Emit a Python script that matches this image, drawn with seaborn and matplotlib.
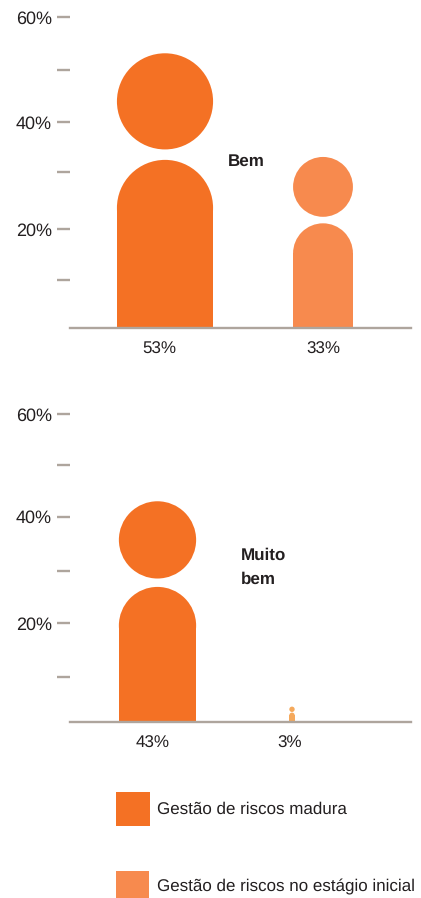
import matplotlib
matplotlib.use("Agg")
import matplotlib.pyplot as plt
import seaborn as sns
import pandas as pd
from matplotlib.patches import Ellipse, Rectangle

sns.set_style("white")
plt.rcParams['font.family'] = ['Liberation Sans', 'DejaVu Sans']
plt.rcParams['text.hinting'] = 'no_hinting'
plt.rcParams['text.hinting_factor'] = 1

W, H = 421, 898
INK = "#231F20"
GREY = "#AEA59D"

groups = ["Gestão de riscos madura", "Gestão de riscos no estágio inicial"]
bem_values = [53, 33]
bem_labels = ["53%", "33%"]
muito_values = [43, 3]
muito_labels = ["43%", "3%"]
bem_colors = ["#F47124", "#F78A4E"]
muito_colors = ["#F47124", "#F5A95C"]
legend_colors = ["#F47124", "#F78A4E"]
bem_ticks = [60, 49.8, 39.7, 30, 19.1, 9.3]
muito_ticks = [60, 50, 40, 29.5, 19.3, 8.8]
tick_labels = ["60%", "", "40%", "", "20%", ""]

fig = plt.figure(figsize=(W / 100, H / 100), dpi=100, facecolor="white")


def panel(y_top, y_base, x0, dx, values, labels, colors, ticks, label_pos):
    ax = fig.add_axes([70 / W, 1 - y_base / H, 341 / W, (y_base - y_top) / H])
    df = pd.DataFrame({"group": groups, "value": values})
    ppy = (y_base - y_top) / 60
    head, gap = 0.35, 0.038
    # straight part of each body: total minus head, gap and rounded shoulder
    body = [v * (1 - head - gap - head / 2) for v in values]
    df["body"] = body
    sns.barplot(data=df, x="group", y="body", hue="group", palette=colors,
                legend=False, ax=ax, saturation=1, width=0.5)
    ax.set_xlim(-(x0 - 70) / dx, (411 - x0) / dx)
    ax.set_ylim(0, 60)
    for i, (v, c, bar) in enumerate(zip(values, colors, ax.patches)):
        w = v * head * ppy / dx
        h = v * head
        bar.set_x(i - w / 2)
        bar.set_width(w)
        bar.set_linewidth(0)
        ax.add_patch(Ellipse((i, v - h / 2), w, h, fc=c, lw=0, zorder=3))
        ax.add_patch(Ellipse((i, v * (1 - head - gap - head / 2)), w, h, fc=c, lw=0, zorder=3))
    ax.set_yticks(ticks)
    ax.set_yticklabels(tick_labels, fontsize=12.8, color=INK)
    ax.set_xticks(label_pos)
    ax.set_xticklabels(labels, fontsize=12.5, color=INK)
    ax.tick_params(axis="y", length=9.4, width=1.7, color=GREY, pad=3.5, left=True)
    ax.tick_params(axis="x", length=0, pad=9.5)
    ax.set_xlabel("")
    ax.set_ylabel("")
    sns.despine(ax=ax, left=True)
    ax.spines["bottom"].set_color(GREY)
    ax.spines["bottom"].set_linewidth(1.7)
    ax.spines["bottom"].set_zorder(5)
    ax.patch.set_alpha(0)
    return ax


panel(17, 328, 165, 158, bem_values, bem_labels, bem_colors, bem_ticks, [-0.038, 1])
panel(414, 722, 157.5, 134.5, muito_values, muito_labels, muito_colors, muito_ticks, [-0.033, 0.985])


def ftext(x, y, s, **kw):
    fig.text(x / W, 1 - y / H, s, va="baseline", color=INK, **kw)


ftext(228, 166, "Bem", fontsize=12, fontweight="bold")
ftext(241, 560, "Muito", fontsize=12, fontweight="bold")
ftext(241, 584, "bem", fontsize=12, fontweight="bold")

for (x, y, w, h), c, label, ty in zip(
    [(116, 792, 34, 34), (116, 871, 33, 27)], legend_colors, groups, [814, 891]
):
    fig.add_artist(Rectangle((x / W, 1 - (y + h) / H), w / W, h / H, fc=c, lw=0,
                             transform=fig.transFigure))
    ftext(157, ty, label, fontsize=11.9)

fig.savefig("out.png", dpi=100)
